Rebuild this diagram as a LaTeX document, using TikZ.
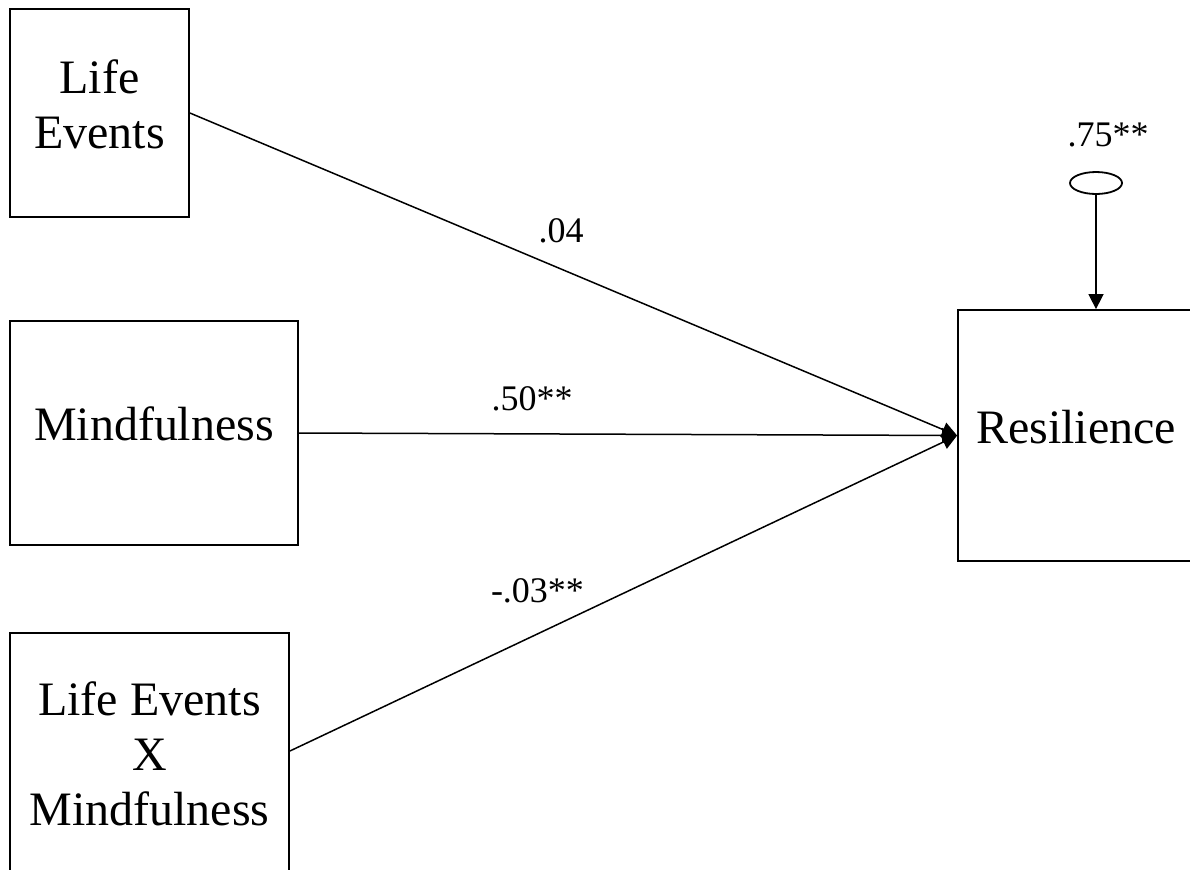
\documentclass[tikz,border=0pt]{standalone}
\usepackage{fontspec}
\setmainfont{Liberation Serif}
\usetikzlibrary{arrows.meta, shapes.geometric}

\begin{document}
\begin{tikzpicture}[x=0.5pt, y=-0.5pt,
    varbox/.style={draw, line width=0.9pt, inner sep=0pt, align=center, text depth=9pt,
      font=\fontsize{24}{27.5}\selectfont},
    coef/.style={font=\fontsize{18}{20}\selectfont, inner sep=0pt},
    path/.style={line width=0.75pt, -{Triangle[length=7.5pt, width=7.5pt]}}]
    \useasboundingbox (0,0) rectangle (1190,869);
    % Predictors
    \node[varbox, minimum width=89.5pt, minimum height=104pt] (life) at (99.5,113) {Life\\Events};
    \node[varbox, minimum width=144pt, minimum height=112pt] (mind) at (154,433) {Mindfulness};
    \node[varbox, minimum width=139.5pt, minimum height=130pt] (lxm) at (149.5,763) {Life Events\\X\\Mindfulness};
    % Outcome
    \node[varbox, minimum width=118pt, minimum height=125.5pt] (res) at (1076,435.5) {Resilience};
    % Residual
    \node[ellipse, draw, line width=0.9pt, inner sep=0pt, minimum width=26pt, minimum height=11pt] (err) at (1096,183) {};
    \node[coef] (errval) at (1108,135) {.75**};
    % Paths
    \draw[path] (life.east) -- (res.west);
    \draw[path] (mind.east) -- (res.west);
    \draw[path] (lxm.east |- 0,751) -- (res.west);
    \draw[path] (err.south) -- (err.south |- res.north);
    % Coefficients
    \node[coef] (c1) at (561,230.5) {.04};
    \node[coef] (c2) at (532,398.5) {.50**};
    \node[coef] (c3) at (537.5,590.5) {-.03**};
\end{tikzpicture}
\end{document}
